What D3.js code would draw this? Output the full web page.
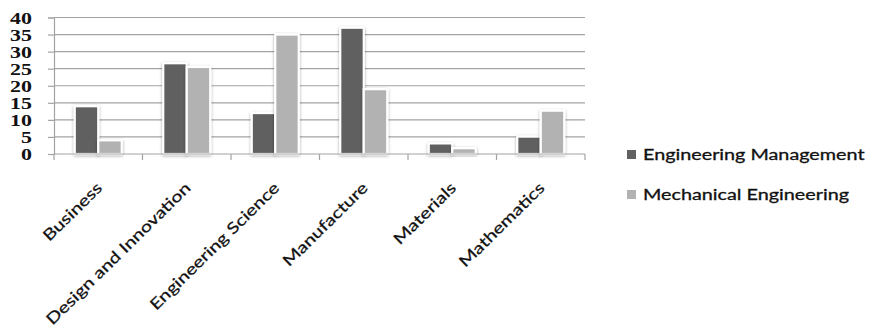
<!DOCTYPE html>
<html>
<head>
<meta charset="utf-8">
<script src="https://cdn.jsdelivr.net/npm/d3@7"></script>
<style>
  html, body { margin: 0; padding: 0; background: #fff; }
  svg { display: block; }
</style>
</head>
<body>
<svg id="chart" width="872" height="329"></svg>
<script>
// Subject areas on the horizontal axis
const categories = ["Business", "Design and Innovation", "Engineering Science", "Manufacture", "Materials", "Mathematics"];
// Series names (legend order)
const seriesNames = ["Engineering Management", "Mechanical Engineering"];
// Values per subject area
const engineeringManagement = [14, 26.6, 12, 37, 3.1, 5.1];
const mechanicalEngineering = [4, 25.5, 35, 19, 1.7, 12.7];
// Value-axis ticks
const yTicks = [0, 5, 10, 15, 20, 25, 30, 35, 40];

const seriesValues = [engineeringManagement, mechanicalEngineering];
const colors = ["#616161", "#b2b2b2"];

const svg = d3.select("#chart");
const plot = { left: 54, right: 585, top: 17.5, bottom: 154 };
const textStretch = 1.37;

const x0 = d3.scaleBand().domain(categories).range([plot.left, plot.right])
  .paddingInner(0.469).paddingOuter(0.2345);
const x1 = d3.scaleBand().domain(seriesNames).range([0, x0.bandwidth()]);
const y = d3.scaleLinear().domain([0, 40]).range([plot.bottom, plot.top]);

// soft shadow behind bars
const defs = svg.append("defs");
const f = defs.append("filter").attr("id", "barShadow")
  .attr("x", "-40%").attr("y", "-40%").attr("width", "180%").attr("height", "180%");
f.append("feDropShadow").attr("dx", 0).attr("dy", 1).attr("stdDeviation", 1.8)
  .attr("flood-color", "#000").attr("flood-opacity", 0.35);

// gridlines
svg.append("g").selectAll("line").data(yTicks.filter(d => d > 0)).join("line")
  .attr("x1", plot.left).attr("x2", plot.right)
  .attr("y1", d => y(d)).attr("y2", d => y(d))
  .attr("stroke", "#a3a3a3").attr("stroke-width", 1.2);

// value axis
const yAxis = svg.append("g").attr("transform", `translate(${plot.left},0)`)
  .call(d3.axisLeft(y).tickValues(yTicks).tickSize(6).tickFormat(""));
yAxis.select(".domain").attr("stroke", "#a3a3a3").attr("stroke-width", 1.2);
yAxis.selectAll(".tick line").attr("stroke", "#a3a3a3").attr("stroke-width", 1.2);

svg.append("g").selectAll("text").data(yTicks).join("text")
  .attr("transform", d => `translate(32,${y(d) + 1}) scale(${textStretch},1)`)
  .attr("text-anchor", "end").attr("dominant-baseline", "central")
  .attr("font-family", "'Liberation Serif', serif").attr("font-weight", "bold")
  .attr("font-size", 16).attr("fill", "#111")
  .text(d => d);

// bars
const groups = svg.append("g").selectAll("g").data(categories).join("g")
  .attr("transform", d => `translate(${x0(d)},0)`);
groups.selectAll("rect")
  .data((c, i) => seriesNames.map((s, j) => ({ s, v: seriesValues[j][i], j })))
  .join("rect")
  .attr("x", d => x1(d.s))
  .attr("width", x1.bandwidth())
  .attr("y", d => y(d.v))
  .attr("height", d => y(0) - y(d.v))
  .attr("fill", d => colors[d.j])
  .attr("stroke", "#fff").attr("stroke-width", 2.2)
  .attr("filter", "url(#barShadow)");

// category axis
const xAxis = svg.append("g").attr("transform", `translate(0,${plot.bottom})`);
xAxis.append("line").attr("x1", plot.left).attr("x2", plot.right)
  .attr("stroke", "#a3a3a3").attr("stroke-width", 1.2);
const xTickPos = categories.map(c => x0(c) - x0.step() * x0.paddingOuter())
  .concat([plot.right]);
xAxis.selectAll("line.tick").data(xTickPos).join("line").attr("class", "tick")
  .attr("x1", d => d).attr("x2", d => d).attr("y1", 0).attr("y2", 6)
  .attr("stroke", "#a3a3a3").attr("stroke-width", 1.2);

svg.append("g").selectAll("text").data(categories).join("text")
  .attr("transform", d => `translate(${x0(d) + x0.bandwidth() / 2 + 5},${plot.bottom + 35}) rotate(-44.5) scale(1.28,1)`)
  .attr("text-anchor", "end")
  .attr("font-family", "Lato, 'Open Sans', sans-serif")
  .attr("font-size", 15.5).attr("fill", "#111")
  .attr("stroke", "#111").attr("stroke-width", 0.25)
  .text(d => d);

// legend
const legend = svg.append("g").selectAll("g").data(seriesNames).join("g")
  .attr("transform", (d, i) => `translate(627,${150 + i * 40})`);
legend.append("rect").attr("width", 9).attr("height", 9)
  .attr("fill", (d, i) => colors[i]);
legend.append("text")
  .attr("transform", `translate(16,10) scale(1.32,1)`)
  .attr("font-family", "Lato, 'Open Sans', sans-serif")
  .attr("font-size", 15).attr("fill", "#111")
  .attr("stroke", "#111").attr("stroke-width", 0.3)
  .text(d => d);
</script>
</body>
</html>
